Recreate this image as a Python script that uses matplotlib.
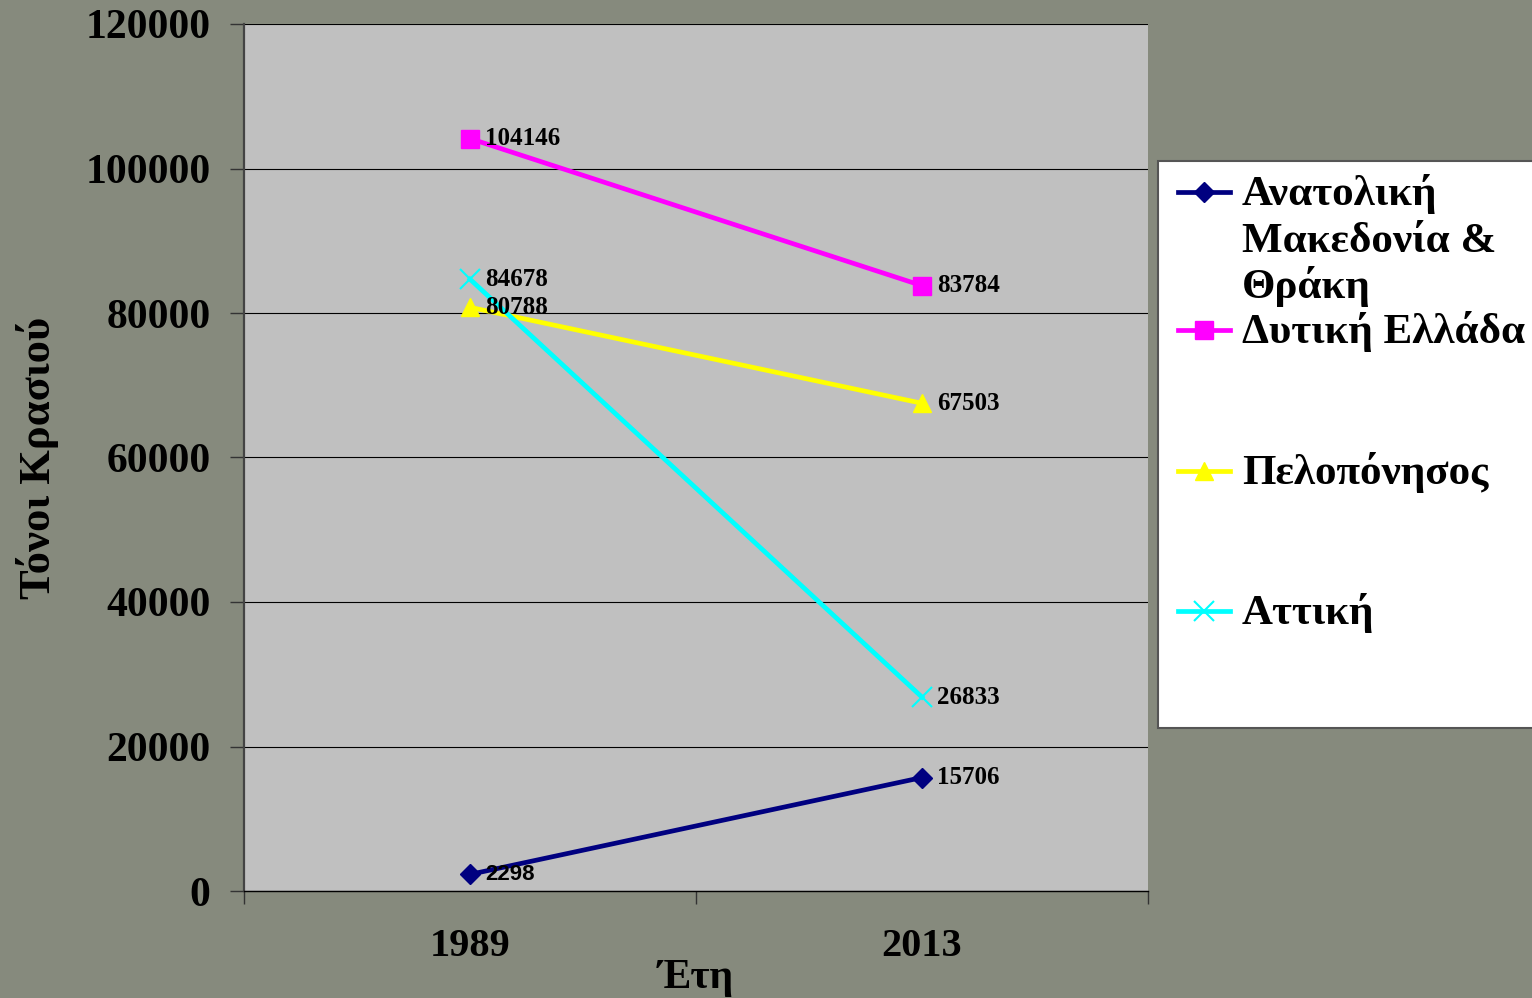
import matplotlib.pyplot as plt
from matplotlib.lines import Line2D
from matplotlib.patches import Rectangle

years = ['1989', '2013']
regions = ['Ανατολική\nΜακεδονία &\nΘράκη', 'Δυτική Ελλάδα', 'Πελοπόνησος', 'Αττική']
values = [
    [2298, 15706],
    [104146, 83784],
    [80788, 67503],
    [84678, 26833],
]
colors = ['#000080', '#ff00ff', '#ffff00', '#00ffff']
markers = ['D', 's', '^', 'x']
msizes = [10, 13, 13, 14]
yticks = [0, 20000, 40000, 60000, 80000, 100000, 120000]

serif = 'Liberation Serif'
bg = '#868a7d'

fig = plt.figure(figsize=(15.32, 9.98), dpi=100)
fig.patch.set_facecolor(bg)
ax = fig.add_axes([244/1532, 107/998, 904/1532, 867/998])
ax.set_facecolor('#c0c0c0')

xs = [0.5, 1.5]
for vals, c, m, ms in zip(values, colors, markers, msizes):
    ax.plot(xs, vals, color=c, lw=3.4, marker=m, markersize=ms,
            markeredgewidth=1.5 if m == 'x' else 1, markeredgecolor=c, zorder=3)
    for x, v in zip(xs, vals):
        fam = 'Liberation Sans' if v < 10000 else serif
        ax.annotate(str(v), (x, v), xytext=(11, 0), textcoords='offset points',
                    ha='left', va='center', fontsize=18 if fam == serif else 16,
                    fontweight='bold', family=fam, zorder=4)

ax.set_xlim(0, 2)
ax.set_ylim(0, 120000)
ax.set_yticks(yticks)
ax.set_yticklabels([str(t) for t in yticks], family=serif, fontweight='bold', fontsize=30)
ax.tick_params(axis='y', length=10, width=1, color='#333333', pad=14)
ax.yaxis.grid(True, color='black', lw=0.8)
ax.set_axisbelow(True)

ax.set_xticks([0, 1, 2])
ax.set_xticklabels(['', '', ''])
ax.tick_params(axis='x', which='major', length=9, width=1, color='#333333')
ax.set_xticks(xs, minor=True)
ax.set_xticklabels(years, minor=True, family=serif, fontweight='bold', fontsize=29)
ax.tick_params(axis='x', which='minor', length=0, pad=27)

for s in ['top', 'right']:
    ax.spines[s].set_visible(False)
ax.spines['left'].set_color('#444444')
ax.spines['left'].set_linewidth(1.6)
ax.spines['bottom'].set_color('black')
ax.spines['bottom'].set_linewidth(1)

ax.set_ylabel('Τόνοι Κρασιού', family=serif, fontweight='bold', fontsize=32)
ax.yaxis.set_label_coords(-0.205, 0.5)
ax.set_xlabel('Έτη', family=serif, fontweight='bold', fontsize=30, va='top')
ax.xaxis.set_label_coords(0.5, -0.078)

# legend box, clipped at the right edge like the original
W, H = 1532, 998
fig.patches.append(Rectangle((1158/W, (H-728)/H), 400/W, 567/H, transform=fig.transFigure,
                             facecolor='white', edgecolor='#555555', lw=1.5, zorder=1))
label_y = [192, 330, 471, 611]
for lab, c, m, ms, yy in zip(regions, colors, markers, msizes, label_y):
    fy = (H - yy) / H
    fig.lines.append(Line2D([1178/W, 1230/W], [fy, fy], transform=fig.transFigure,
                            color=c, lw=3.4, zorder=2))
    fig.lines.append(Line2D([1204/W], [fy], transform=fig.transFigure, color=c,
                            marker=m, markersize=ms, markeredgecolor=c,
                            markeredgewidth=1.5 if m == 'x' else 1, lw=0, zorder=3))
    for i, line in enumerate(lab.split('\n')):
        fig.text(1242/W, (H - yy - 13 - 46.5 * i) / H, line, ha='left', va='baseline',
                 family=serif, fontweight='bold', fontsize=31, zorder=3)

fig.savefig('out.png', dpi=100, facecolor=bg)
